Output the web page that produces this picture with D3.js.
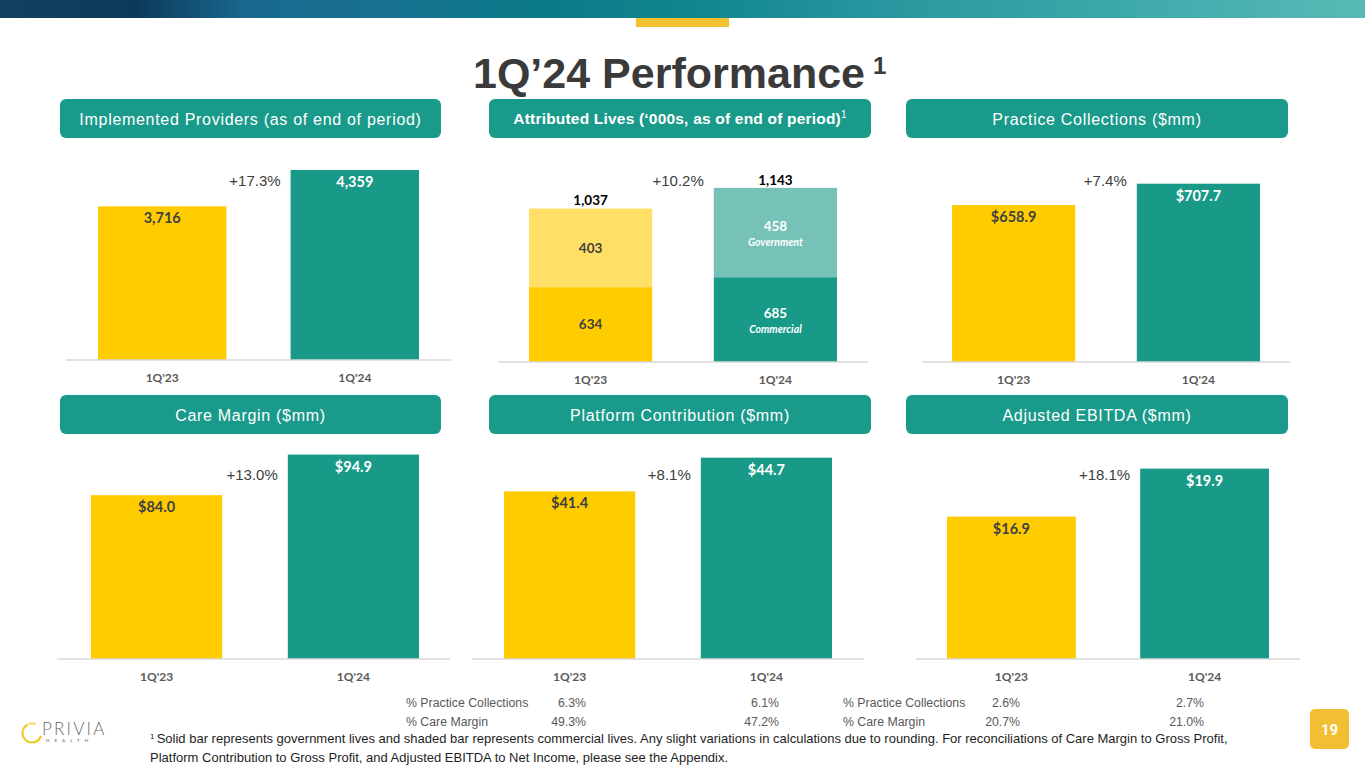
<!DOCTYPE html>
<html><head><meta charset="utf-8">
<script src="https://cdn.jsdelivr.net/npm/d3@7"></script>
<style>body{margin:0;background:#fff;} svg{display:block;}</style>
</head><body><svg id="c" width="1365" height="768"></svg>
<script>
// ---------- DATA ----------
const periods = ["1Q'23", "1Q'24"];
const providers = [3716, 4359];
const livesBottom = [634, 685];          // bottom segment
const livesTop = [403, 458];             // top segment
const livesTotal = [1037, 1143];
const livesTopTag = ["", "Government"];
const livesBottomTag = ["", "Commercial"];
const practiceCollections = [658.9, 707.7];
const careMargin = [84.0, 94.9];
const platformContribution = [41.4, 44.7];
const adjustedEbitda = [16.9, 19.9];
const growthLabels = ["+17.3%", "+10.2%", "+7.4%", "+13.0%", "+8.1%", "+18.1%"];
const panelTitles = ["Implemented Providers (as of end of period)", "Attributed Lives (\u2018000s, as of end of period)",
  "Practice Collections ($mm)", "Care Margin ($mm)", "Platform Contribution ($mm)", "Adjusted EBITDA ($mm)"];
const tableRowLabels = ["% Practice Collections", "% Care Margin"];
const platformPct = [["6.3%", "6.1%"], ["49.3%", "47.2%"]];
const ebitdaPct = [["2.6%", "2.7%"], ["20.7%", "21.0%"]];
const footnote = ["Solid bar represents government lives and shaded bar represents commercial lives. Any slight variations in calculations due to rounding.  For reconciliations of Care Margin to Gross Profit,",
  "Platform Contribution to Gross Profit, and Adjusted EBITDA to Net Income, please see the Appendix."];

// ---------- STYLE / LAYOUT ----------
const TEAL = "#199987", TEAL_LIGHT = "#76C1B8", YELLOW = "#FFCC00", YELLOW_LIGHT = "#FFDF66", HEAD = "#1A9A8A";
const svg = d3.select("#c");
const defs = svg.append("defs");
const g = defs.append("linearGradient").attr("id", "band").attr("x1", 0).attr("x2", 1).attr("y1", 0).attr("y2", 0);
[[0, "#14405f"], [0.1, "#0d3a5a"], [0.18, "#1a6890"], [0.3, "#16738f"], [0.4, "#0b7a88"], [0.52, "#11878f"], [0.65, "#2a97a0"], [0.8, "#3aa6a9"], [1, "#58bab6"]]
  .forEach(s => g.append("stop").attr("offset", s[0]).attr("stop-color", s[1]));
svg.append("rect").attr("x", 0).attr("y", 0).attr("width", 1365).attr("height", 18).attr("fill", "url(#band)");
svg.append("rect").attr("x", 636).attr("y", 18).attr("width", 93).attr("height", 9).attr("fill", "#F2C232");

// title
const t = svg.append("text").attr("x", 473).attr("y", 88).attr("font-family", "Liberation Sans, Arial, sans-serif")
  .attr("font-weight", "bold").attr("font-size", 43).attr("fill", "#3a3a3a").text("1Q\u201924 Performance");
t.append("tspan").attr("dx", 8).attr("dy", -14).attr("font-size", 24).text("1");

const layout = [
  { hx: [60, 441], hy: 99, bars: [98, 419], axis: [66, 451], base: 360, dom: [1000, 4500], top: 162.0, vals: providers, fmt: d3.format(",") },
  { hx: [489, 871], hy: 99, bars: [529, 837], axis: [498, 868], base: 362, dom: [250, 1200], top: 176.75 },
  { hx: [906, 1288], hy: 99, bars: [952, 1260], axis: [922, 1290], base: 362, dom: [300, 750], top: 165.2, vals: practiceCollections, fmt: v => "$" + d3.format(".1f")(v) },
  { hx: [60, 441], hy: 395, bars: [91, 419], axis: [57, 450], base: 659, dom: [40, 100], top: 435.6, vals: careMargin, fmt: v => "$" + d3.format(".1f")(v) },
  { hx: [489, 871], hy: 395, bars: [504, 832], axis: [472, 864], base: 659, dom: [25, 50], top: 403.5, vals: platformContribution, fmt: v => "$" + d3.format(".1f")(v) },
  { hx: [906, 1288], hy: 395, bars: [947, 1269], axis: [916, 1300], base: 659, dom: [8, 22], top: 435, vals: adjustedEbitda, fmt: v => "$" + d3.format(".1f")(v) }
];

layout.forEach((L, i) => {
  // header
  svg.append("rect").attr("x", L.hx[0]).attr("y", L.hy).attr("width", L.hx[1] - L.hx[0]).attr("height", 39)
    .attr("rx", 6).attr("fill", HEAD);
  const ht = svg.append("text").attr("x", (L.hx[0] + L.hx[1]) / 2).attr("y", L.hy + 20).attr("dy", "0.35em")
    .attr("text-anchor", "middle").attr("fill", "#fff").attr("font-family", "Liberation Sans, Arial, sans-serif")
    .attr("font-size", i === 1 ? 15.5 : 16).attr("font-weight", i === 1 ? "bold" : "normal")
    .attr("letter-spacing", i === 1 ? 0.2 : 0.7).text(panelTitles[i]);
  if (i === 1) ht.append("tspan").attr("font-size", 10).attr("font-weight", "normal").attr("dy", -6).text("1");

  const x = d3.scaleBand().domain(periods).range(L.bars).paddingInner(1 / 3).paddingOuter(0);
  const y = d3.scaleLinear().domain(L.dom).range([L.base, L.top]);
  const gg = svg.append("g");

  if (i === 1) {
    const stackData = periods.map((p, k) => ({ p, bottom: livesBottom[k], top: livesTop[k], k }));
    const series = d3.stack().keys(["bottom", "top"])(stackData);
    const colors = { bottom: [YELLOW, TEAL], top: [YELLOW_LIGHT, TEAL_LIGHT] };
    series.forEach(s => {
      gg.selectAll(null).data(s).join("rect")
        .attr("x", d => x(d.data.p)).attr("width", x.bandwidth())
        .attr("y", d => y(d[1]))
        .attr("height", d => (d[0] === 0 ? L.base : y(d[0])) - y(d[1]))
        .attr("fill", d => colors[s.key][d.data.k]);
    });
    const lbl = (px, py, txt, col, size, italic) => gg.append("text").attr("x", px).attr("y", py).attr("dy", "0.35em")
      .attr("text-anchor", "middle").attr("font-family", "Lato, sans-serif").attr("font-weight", "bold")
      .attr("font-style", italic ? "italic" : "normal").attr("font-size", size).attr("fill", col).text(txt);
    periods.forEach((p, k) => {
      const cx = x(p) + x.bandwidth() / 2;
      const fg = k === 0 ? "#404040" : "#fff";
      lbl(cx, y(livesTotal[k]) - 8, d3.format(",")(livesTotal[k]), "#000", 13.5);
      const midTop = (y(livesBottom[k]) + y(livesTotal[k])) / 2;
      const midBot = (L.base + y(livesBottom[k])) / 2;
      if (livesTopTag[k]) { lbl(cx, midTop - 6, livesTop[k], fg, 13.5); lbl(cx, midTop + 10, livesTopTag[k], fg, 10.5, true); }
      else lbl(cx, midTop, livesTop[k], fg, 13.5);
      if (livesBottomTag[k]) { lbl(cx, midBot - 6, livesBottom[k], fg, 13.5); lbl(cx, midBot + 10, livesBottomTag[k], fg, 10.5, true); }
      else lbl(cx, midBot, livesBottom[k], fg, 13.5);
    });
  } else {
    gg.selectAll(null).data(periods).join("rect")
      .attr("x", d => x(d)).attr("width", x.bandwidth())
      .attr("y", (d, k) => y(L.vals[k])).attr("height", (d, k) => L.base - y(L.vals[k]))
      .attr("fill", (d, k) => k === 0 ? YELLOW : TEAL);
    gg.selectAll(null).data(periods).join("text")
      .attr("x", d => x(d) + x.bandwidth() / 2).attr("y", (d, k) => y(L.vals[k]) + 12).attr("dy", "0.35em")
      .attr("text-anchor", "middle").attr("font-family", "Lato, sans-serif").attr("font-weight", "bold").attr("font-size", 14.5)
      .attr("fill", (d, k) => k === 0 ? "#404040" : "#fff").text((d, k) => L.fmt(L.vals[k]));
  }
  // growth label
  gg.append("text").attr("x", x(periods[1]) - 10).attr("y", L.hy === 99 ? 181 : 475).attr("dy", "0.35em")
    .attr("text-anchor", "end").attr("font-family", "Liberation Sans, Arial, sans-serif").attr("font-size", 15)
    .attr("fill", "#404040").text(growthLabels[i]);
  // axis
  const axis = d3.axisBottom(x).tickSize(0).tickPadding(13);
  const ax = svg.append("g").attr("transform", `translate(0,${L.base})`).call(axis);
  ax.select(".domain").remove();
  ax.append("line").attr("x1", L.axis[0]).attr("x2", L.axis[1]).attr("stroke", "#d9d9d9").attr("stroke-width", 1.5);
  ax.selectAll(".tick text").attr("font-family", "Lato, sans-serif").attr("font-weight", "bold").attr("font-size", 12)
    .attr("fill", "#595959");
  if (L.hy === 99) svg.append("line").attr("x1", L.hx[0] + 2).attr("x2", L.hx[1] - 4).attr("y1", 394).attr("y2", 394)
    .attr("stroke", "#e3f6fa").attr("stroke-width", 1);
});

// tables
function table(labelX, c1, c2, rows) {
  rows.forEach((r, k) => {
    const yy = 703 + k * 19;
    const f = s => s.attr("font-family", "Liberation Sans, Arial, sans-serif").attr("font-size", 12.3).attr("fill", "#595959").attr("dy", "0.35em");
    f(svg.append("text").attr("x", labelX).attr("y", yy).text(tableRowLabels[k]));
    f(svg.append("text").attr("x", c1).attr("y", yy).attr("text-anchor", "end").text(r[0]));
    f(svg.append("text").attr("x", c2).attr("y", yy).attr("text-anchor", "end").text(r[1]));
  });
}
table(406, 586, 779, platformPct);
table(843, 1020, 1204, ebitdaPct);

// footnote
footnote.forEach((line, k) => {
  const ft = svg.append("text").attr("x", 150).attr("y", 741 + k * 16).attr("dy", "0.35em")
    .attr("font-family", "Liberation Sans, Arial, sans-serif").attr("font-size", 13).attr("fill", "#1e1e1e");
  if (k === 0) { ft.append("tspan").attr("font-size", 8).attr("dy", "-0.3em").text("1 "); ft.append("tspan").attr("dy", "0.3em").text(line); }
  else ft.text(line);
});

// logo
const arc = d3.arc().innerRadius(8.4).outerRadius(10.6);
const lg = svg.append("g").attr("transform", "translate(32,733)");
lg.append("path").attr("d", arc({ startAngle: Math.PI * 0.6, endAngle: Math.PI * 1.85 })).attr("fill", "#EDCB2E");
lg.append("path").attr("d", arc({ startAngle: Math.PI * 1.88, endAngle: Math.PI * 2.12 })).attr("fill", "#F4DC70");
svg.append("text").attr("x", 42).attr("y", 735).attr("font-family", "Lato, sans-serif").attr("font-weight", 300)
  .attr("font-size", 17).attr("letter-spacing", 2.2).attr("fill", "#6a6a6a").text("PRIVIA");
svg.append("text").attr("x", 46).attr("y", 741.5).attr("font-family", "Lato, sans-serif").attr("font-weight", "bold")
  .attr("font-size", 4.5).attr("letter-spacing", 5).attr("fill", "#8a8a8a").text("HEALTH");

// page number
svg.append("rect").attr("x", 1310).attr("y", 709).attr("width", 39).attr("height", 40).attr("rx", 5).attr("fill", "#F2BE32");
svg.append("text").attr("x", 1329.5).attr("y", 729.5).attr("dy", "0.35em").attr("text-anchor", "middle")
  .attr("font-family", "Roboto, sans-serif").attr("font-weight", "bold").attr("font-size", 15).attr("fill", "#fff").text("19");
</script></body></html>
